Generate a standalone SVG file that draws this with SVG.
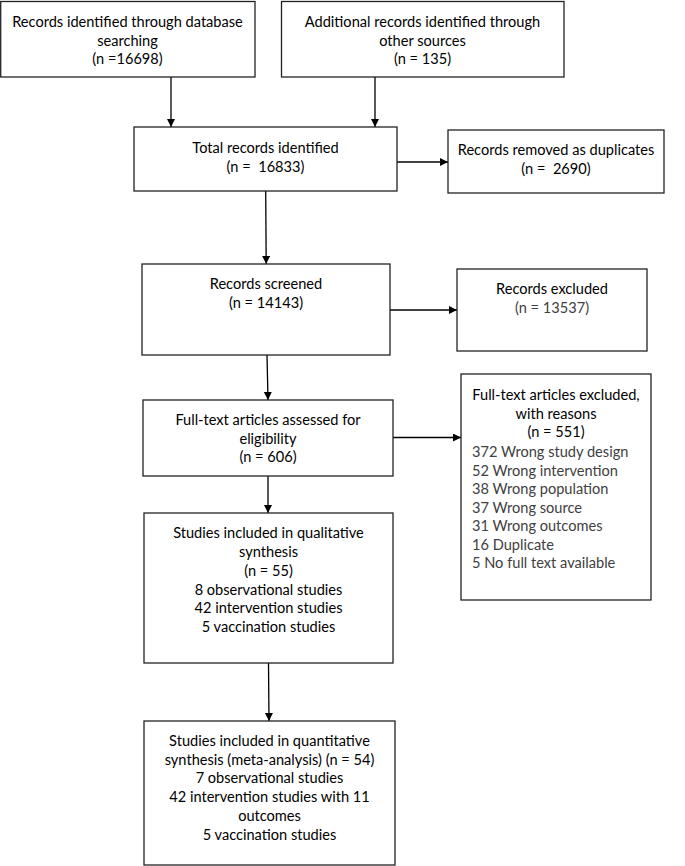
<svg xmlns="http://www.w3.org/2000/svg" width="685" height="866" viewBox="0 0 685 866">
<defs>
<marker id="arr" markerUnits="userSpaceOnUse" markerWidth="9" markerHeight="9" refX="8" refY="4" orient="auto">
<path d="M0,0 L8,4 L0,8 z" fill="#000"/>
</marker>
<style>
.box{fill:#fff;stroke:#222;stroke-width:1.3}
.t{font-family:Lato,"Liberation Sans",sans-serif;font-size:14.6px;fill:#000;text-anchor:middle;white-space:pre}
.g{fill:#404040}
.l{text-anchor:start}
.c{fill:none;stroke:#000;stroke-width:1.3;marker-end:url(#arr)}
</style>
</defs>
<rect width="685" height="866" fill="#fff"/>
<g id="connectors">
<line class="c" x1="171" y1="77" x2="171" y2="127"/>
<line class="c" x1="375" y1="77" x2="375" y2="127"/>
<line class="c" x1="397" y1="162" x2="448" y2="162"/>
<line class="c" x1="265.7" y1="191" x2="266.2" y2="264"/>
<line class="c" x1="390" y1="310" x2="457" y2="310"/>
<line class="c" x1="267" y1="355" x2="268" y2="400"/>
<line class="c" x1="393" y1="437.5" x2="461" y2="437.5"/>
<line class="c" x1="268" y1="476" x2="268" y2="513"/>
<line class="c" x1="268.5" y1="663" x2="269" y2="721"/>
</g>
<g id="db">
<rect class="box" x="0.7" y="1.5" width="254.3" height="75.5"/>
<text class="t" x="127.5" y="27">Records identified through database</text>
<text class="t" x="127.5" y="46">searching</text>
<text class="t" x="127.5" y="64">(n =16698)</text>
</g>
<g id="other">
<rect class="box" x="281.5" y="1.5" width="282.5" height="75.5"/>
<text class="t" x="422.5" y="27">Additional records identified through</text>
<text class="t" x="422.5" y="46">other sources</text>
<text class="t" x="422.5" y="64">(n = 135)</text>
</g>
<g id="total">
<rect class="box" x="134" y="127" width="263" height="64"/>
<text class="t" x="265.5" y="153">Total records identified</text>
<text class="t" x="265.5" y="172" xml:space="preserve">(n =  16833)</text>
</g>
<g id="duplicates">
<rect class="box" x="448" y="130" width="216" height="63"/>
<text class="t" x="556" y="155">Records removed as duplicates</text>
<text class="t" x="556" y="174" xml:space="preserve">(n =  2690)</text>
</g>
<g id="screened">
<rect class="box" x="142" y="264" width="248" height="91"/>
<text class="t" x="266" y="289">Records screened</text>
<text class="t" x="266" y="308">(n = 14143)</text>
</g>
<g id="excluded">
<rect class="box" x="457" y="269" width="190" height="82"/>
<text class="t" x="552" y="294">Records excluded</text>
<text class="t g" x="552" y="313">(n = 13537)</text>
</g>
<g id="fulltext">
<rect class="box" x="143" y="400" width="250" height="76"/>
<text class="t" x="268" y="425">Full-text articles assessed for</text>
<text class="t" x="268" y="443.5">eligibility</text>
<text class="t" x="268" y="462">(n = 606)</text>
</g>
<g id="ft-excluded">
<rect class="box" x="461" y="374" width="190" height="226"/>
<text class="t" x="556" y="400">Full-text articles excluded,</text>
<text class="t" x="556" y="418.5">with reasons</text>
<text class="t" x="556" y="437">(n = 551)</text>
<text class="t g l" x="472" y="457">372 Wrong study design</text>
<text class="t g l" x="472" y="475.5">52 Wrong intervention</text>
<text class="t g l" x="472" y="494">38 Wrong population</text>
<text class="t g l" x="472" y="512.5">37 Wrong source</text>
<text class="t g l" x="472" y="531">31 Wrong outcomes</text>
<text class="t g l" x="472" y="549.5">16 Duplicate</text>
<text class="t g l" x="472" y="568">5 No full text available</text>
</g>
<g id="qualitative">
<rect class="box" x="144" y="513" width="249" height="150"/>
<text class="t" x="268.5" y="538">Studies included in qualitative</text>
<text class="t" x="268.5" y="557">synthesis</text>
<text class="t" x="268.5" y="576">(n = 55)</text>
<text class="t" x="268.5" y="594.5">8 observational studies</text>
<text class="t" x="268.5" y="613">42 intervention studies</text>
<text class="t" x="268.5" y="632">5 vaccination studies</text>
</g>
<g id="quantitative">
<rect class="box" x="144" y="721" width="251" height="144"/>
<text class="t" x="269.5" y="746">Studies included in quantitative</text>
<text class="t" x="269.5" y="764.5">synthesis (meta-analysis) (n = 54)</text>
<text class="t" x="269.5" y="783">7 observational studies</text>
<text class="t" x="269.5" y="802">42 intervention studies with 11</text>
<text class="t" x="269.5" y="821">outcomes</text>
<text class="t" x="269.5" y="840">5 vaccination studies</text>
</g>
</svg>
